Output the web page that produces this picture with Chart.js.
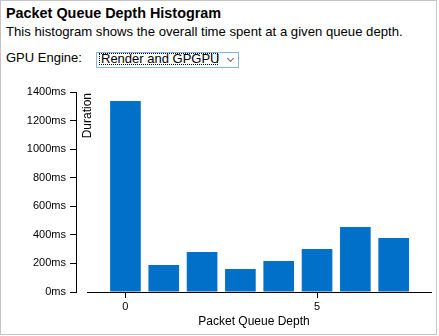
<!DOCTYPE html>
<html>
<head>
<meta charset="utf-8">
<title>Packet Queue Depth Histogram</title>
<script src="https://cdn.jsdelivr.net/npm/chart.js@4"></script>
<style>
    html, body { margin: 0; padding: 0; background: #fff; }
    #panel {
        position: relative;
        width: 435px;
        height: 333px;
        border: 1px solid #c4c4c4;
        font-family: "Liberation Sans", Arial, sans-serif;
        color: #000;
        overflow: hidden;
    }
    #panel h1 {
        position: absolute; left: 5px; top: 4px; margin: 0;
        font-size: 14.4px; font-weight: bold; line-height: normal;
    }
    #panel .desc {
        position: absolute; left: 5px; top: 23px; margin: 0;
        font-size: 13.15px; line-height: normal;
    }
    #engine-label {
        position: absolute; left: 5px; top: 49px;
        font-size: 13px; line-height: normal;
    }
    #engine {
        position: absolute; left: 95px; top: 51px;
        width: 141px; height: 14px;
        border: 1px solid #7eb4ea;
        font-size: 13px;
    }
    #engine .value {
        position: absolute; left: 3px; top: 1px;
        height: 10px; width: 116px; padding: 0 0 0 1px;
        outline: 1px dotted #000;
        line-height: 10px;
        white-space: nowrap;
    }
    #engine .arrow {
        position: absolute; left: 131px; top: 3px;
        width: 4px; height: 4px;
        border-right: 1px solid #666; border-bottom: 1px solid #666;
        transform: rotate(45deg);
    }
    #histogram { position: absolute; left: 0; top: 77px; }
</style>
</head>
<body>
<div id="panel">
    <h1>Packet Queue Depth Histogram</h1>
    <p class="desc">This histogram shows the overall time spent at a given queue depth.</p>
    <span id="engine-label">GPU Engine:</span>
    <div id="engine"><span class="value">Render and GPGPU</span><span class="arrow"></span></div>
    <canvas id="histogram" width="435" height="255"></canvas>
</div>
<script>
    // queue depth -> total time spent at that depth
    const queueDepths = [0, 1, 2, 3, 4, 5, 6, 7];
    const durationMs = [1337, 189, 280, 161, 217, 301, 455, 378];

    const depthTicks = [0, 5];
    const durationTicks = [0, 200, 400, 600, 800, 1000, 1200, 1400];

    Chart.defaults.font.family = '"Liberation Sans", Arial, sans-serif';
    Chart.defaults.font.size = 11;
    Chart.defaults.color = '#000';

    // x axis line starts one step before depth 0, leaving a gap to the y axis
    const axisLines = {
        id: 'axisLines',
        afterDraw(chart) {
            const {ctx, chartArea, scales: {x}} = chart;
            const y = Math.floor(chartArea.bottom) + 0.5;
            ctx.save();
            ctx.strokeStyle = '#000';
            ctx.lineWidth = 1;
            ctx.beginPath();
            ctx.moveTo(Math.round(x.getPixelForValue(-1)), y);
            ctx.lineTo(chartArea.right, y);
            ctx.stroke();

            ctx.translate(chartArea.left + 12, chartArea.top + 1);
            ctx.rotate(-Math.PI / 2);
            ctx.font = '12px "Liberation Sans", Arial, sans-serif';
            ctx.fillStyle = '#000';
            ctx.textAlign = 'right';
            ctx.textBaseline = 'middle';
            ctx.fillText('Duration', 0, 0);
            ctx.restore();
        }
    };

    const ctx = document.getElementById('histogram').getContext('2d');
    new Chart(ctx, {
        type: 'bar',
        data: {
            datasets: [{
                label: 'Duration',
                data: queueDepths.map((d, i) => ({x: d, y: durationMs[i]})),
                backgroundColor: '#0070c8',
                borderWidth: 0,
                barPercentage: 0.8,
                categoryPercentage: 1
            }]
        },
        options: {
            responsive: false,
            animation: false,
            layout: {padding: {top: 14, right: 4, left: 0, bottom: 0}},
            plugins: {
                legend: {display: false},
                tooltip: {enabled: false}
            },
            scales: {
                x: {
                    type: 'linear',
                    min: -1.29,
                    max: 8,
                    offset: false,
                    afterBuildTicks: scale => { scale.ticks = depthTicks.map(v => ({value: v})); },
                    afterFit: scale => { scale.height = 41; },
                    border: {display: false},
                    grid: {offset: false, drawOnChartArea: false, tickLength: 6, color: '#000'},
                    ticks: {padding: 2},
                    title: {display: true, text: 'Packet Queue Depth', font: {size: 12}, padding: {top: 2, bottom: 4}}
                },
                y: {
                    min: 0,
                    max: 1400,
                    afterBuildTicks: scale => { scale.ticks = durationTicks.map(v => ({value: v})); },
                    afterFit: scale => { scale.width = 75; },
                    border: {display: true, color: '#000'},
                    grid: {drawOnChartArea: false, tickLength: 6, color: '#000'},
                    ticks: {padding: 4, callback: v => v + 'ms'}
                }
            }
        },
        plugins: [axisLines]
    });
</script>
</body>
</html>
